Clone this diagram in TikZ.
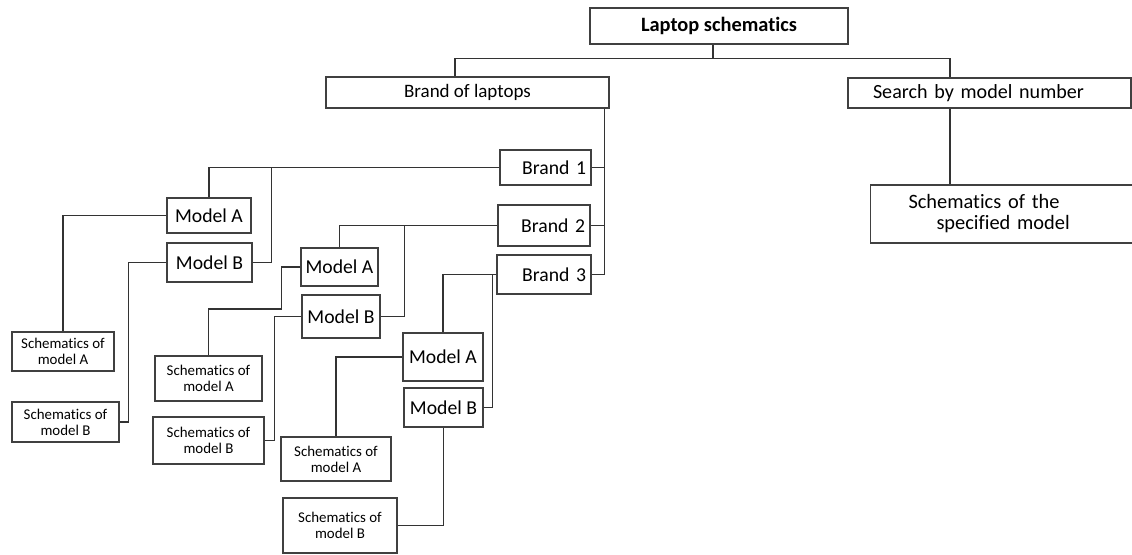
\documentclass[tikz,border=0pt]{standalone}
\usepackage{fontspec}
\setmainfont{Carlito}[Ligatures=NoCommon]
\newlength\pxu
\setlength\pxu{0.025cm}
\begin{document}
\begin{tikzpicture}[x=0.025cm, y=-0.025cm,
    box/.style={draw=black!75, line width=1.05pt, inner sep=0pt, align=center},
    big/.style={font=\fontsize{14}{15}\selectfont},
    small/.style={font=\fontsize{10.6}{11.5}\selectfont},
    brandbox/.style={box, big, inner xsep=5\pxu, text width=#1, align=right},
    wire/.style={draw=black!80, line width=1pt}]
  \useasboundingbox (0,0) rectangle (1132,554);

  \node[box, font=\fontsize{14.5}{15}\selectfont\bfseries, minimum width=258\pxu, minimum height=36\pxu] (top) at (719,26) {Laptop schematics};
  \node[box, font=\fontsize{13.5}{15}\selectfont, minimum width=283\pxu, minimum height=31\pxu] (brands) at (467.5,92.5) {Brand of laptops};
  \node[box, font=\fontsize{14.3}{15}\selectfont, inner xsep=25\pxu, text width=233\pxu, align=left, minimum height=30\pxu] (search) at (989.5,93) {Search by model number};
  \node[box, font=\fontsize{14.5}{15}\selectfont, inner xsep=38\pxu, text width=198\pxu, align=left, minimum height=58\pxu] (spec) at (1007.5,214) {Schematics of the\\\hspace*{28\pxu}specified model};

  \node[brandbox=81\pxu, minimum height=35\pxu] (b1) at (545.5,167.5) {Brand 1};
  \node[brandbox=82\pxu, minimum height=41\pxu] (b2) at (544,225.5) {Brand 2};
  \node[brandbox=84\pxu, minimum height=39\pxu] (b3) at (544,274.5) {Brand 3};

  \node[box, big, minimum width=84\pxu, minimum height=35\pxu] (m1a) at (209,215.5) {Model A};
  \node[box, big, minimum width=85\pxu, minimum height=39\pxu] (m1b) at (209.5,262.5) {Model B};
  \node[box, big, minimum width=77\pxu, minimum height=38\pxu] (m2a) at (339.5,267) {Model A};
  \node[box, big, minimum width=78\pxu, minimum height=43\pxu] (m2b) at (341,316.5) {Model B};
  \node[box, big, minimum width=80\pxu, minimum height=48\pxu] (m3a) at (443,357) {Model A};
  \node[box, big, minimum width=79\pxu, minimum height=39\pxu] (m3b) at (443.5,407.5) {Model B};

  \node[box, small, minimum width=102\pxu, minimum height=39\pxu] (s1a) at (63,351.5) {Schematics of\\model A};
  \node[box, small, minimum width=107\pxu, minimum height=40\pxu] (s1b) at (65.5,422) {Schematics of\\model B};
  \node[box, small, minimum width=107\pxu, minimum height=45\pxu] (s2a) at (208.5,378.5) {Schematics of\\model A};
  \node[box, small, minimum width=111\pxu, minimum height=47\pxu] (s2b) at (208.5,440.5) {Schematics of\\model B};
  \node[box, small, minimum width=110\pxu, minimum height=44\pxu] (s3a) at (336,459) {Schematics of\\model A};
  \node[box, small, minimum width=114\pxu, minimum height=55\pxu] (s3b) at (340,525.5) {Schematics of\\model B};

  \draw[wire] ([xshift=-6\pxu]top.south) -- ++(0,14) coordinate (split) -| ([xshift=-12.5\pxu]brands.north);
  \draw[wire] (split) -| ([xshift=-39.5\pxu]search.north);
  \draw[wire] ([xshift=-39.5\pxu]search.south) -- ([xshift=-39.5\pxu]search.south |- spec.north);

  \draw[wire] ([xshift=-5\pxu]brands.south east) coordinate (trunk) |- (b3.east);
  \draw[wire] (b1.east) -- (b1.east -| trunk);
  \draw[wire] (b2.east) -- (b2.east -| trunk);

  \draw[wire] (b1.west) -| (m1a.north);
  \draw[wire] (m1b.east) -- ++(19,0) |- (b1.west);
  \draw[wire] (m1a.west) -| (s1a.north);
  \draw[wire] (m1b.west) -- ++(-38,0) |- (s1b.east);

  \draw[wire] (b2.west) -| (m2a.north);
  \draw[wire] (m2b.east) -- ++(24,0) |- (b2.west);
  \draw[wire] (m2a.west) -- ++(-19,0) -- ++(0,42) -| (s2a.north);
  \draw[wire] (m2b.west) -- ++(-27,0) |- (s2b.east);

  \draw[wire] (b3.west) -| (m3a.north);
  \draw[wire] (m3b.east) -- ++(9,0) |- (b3.west);
  \draw[wire] (m3a.west) -| (s3a.north);
  \draw[wire] (m3b.south) |- (s3b.east);
\end{tikzpicture}
\end{document}
